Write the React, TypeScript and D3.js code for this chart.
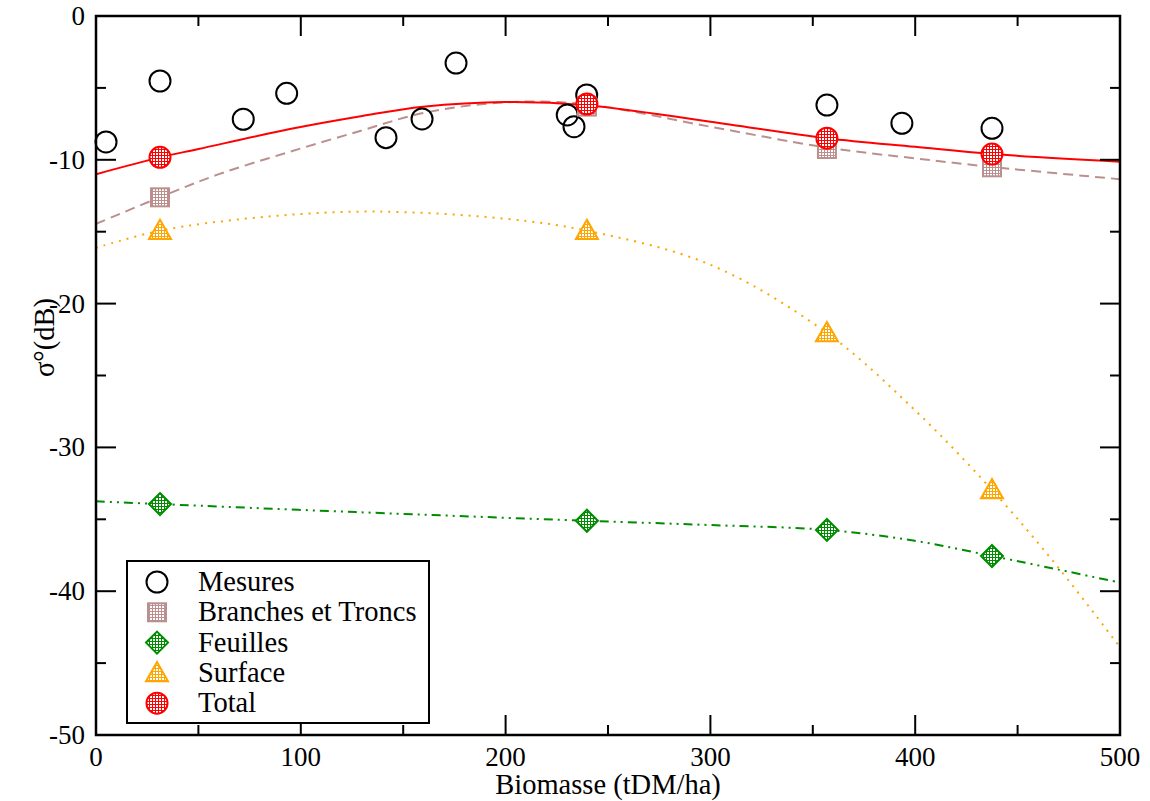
import React from "react";
import * as d3 from "d3";

const W = 1150;
const H = 801;
const M = { left: 96, right: 1120, top: 16, bottom: 735 };

// Scatter: measurements
const mesuresX = [4.9, 31.25, 71.9, 93.1, 141.6, 159.2, 175.8, 230.1, 233.4, 239.6, 356.9, 393.5, 437.5];
const mesuresY = [-8.76, -4.52, -7.18, -5.38, -8.46, -7.16, -3.27, -6.88, -7.7, -5.49, -6.19, -7.46, -7.81];

// Model points
const modelX = [31.25, 239.7, 356.9, 437.5];
const branchesY = [-12.61, -6.3, -9.25, -10.52];
const feuillesY = [-33.94, -35.1, -35.74, -37.55];
const surfaceY = [-14.93, -14.93, -22.05, -32.96];
const totalY = [-9.83, -6.12, -8.5, -9.6];

// Fitted curves
const totalCurveX = [0, 31.25, 50, 94.7, 130, 159.7, 200, 239.7, 300, 356.9, 400, 437.5, 500];
const totalCurveY = [-11.0, -9.83, -9.25, -7.86, -6.95, -6.31, -5.98, -6.2, -7.35, -8.5, -9.1, -9.6, -10.13];
const branchesCurveX = [0, 31.25, 60, 94.7, 130, 159.7, 200, 239.7, 300, 356.9, 400, 437.5, 500];
const branchesCurveY = [-14.46, -12.6, -11.0, -9.44, -7.95, -6.75, -6.0, -6.15, -7.7, -9.15, -9.9, -10.5, -11.35];
const surfaceCurveX = [0, 31.25, 80, 135, 200, 239.7, 300, 356.9, 400, 437.5, 470, 500];
const surfaceCurveY = [-16.13, -14.93, -14.0, -13.6, -14.1, -14.93, -17.3, -22.05, -27.43, -32.96, -38.38, -43.9];
const feuillesCurveX = [0, 31.25, 127, 239.7, 300, 356.9, 400, 437.5, 470, 500];
const feuillesCurveY = [-33.75, -33.94, -34.5, -35.1, -35.4, -35.74, -36.5, -37.55, -38.5, -39.4];

const xTicks = [0, 100, 200, 300, 400, 500];
const xMinor = [50, 150, 250, 350, 450];
const yTicks = [0, -10, -20, -30, -40, -50];
const yMinor = [-5, -15, -25, -35, -45];

const legendLabels = ["Mesures", "Branches et Troncs", "Feuilles", "Surface", "Total"];

const C_RED = "#ff0000";
const C_BROWN = "#bc8f8f";
const C_GREEN = "#008b00";
const C_ORANGE = "#ffa500";

const x = d3.scaleLinear().domain([0, 500]).range([M.left, M.right]);
const y = d3.scaleLinear().domain([-50, 0]).range([M.bottom, M.top]);

const curve = (xs: number[], ys: number[]) =>
  d3
    .line<number>()
    .x((_, i) => x(xs[i]))
    .y((_, i) => y(ys[i]))
    .curve(d3.curveCatmullRom.alpha(0.5))(ys) as string;

const FONT = "'Liberation Serif', 'Times New Roman', Times, serif";

function Sym({ kind, cx, cy, color }: { kind: string; cx: number; cy: number; color: string }) {
  const fill = kind === "mesure" ? "none" : `url(#dots-${kind})`;
  if (kind === "mesure" || kind === "total") {
    return <circle cx={cx} cy={cy} r={10.5} fill={fill} stroke={color} strokeWidth={2} />;
  }
  if (kind === "branches") {
    return <rect x={cx - 9} y={cy - 9} width={18} height={18} fill={fill} stroke={color} strokeWidth={2} />;
  }
  if (kind === "feuilles") {
    const r = 11;
    return (
      <path
        d={`M${cx},${cy - r}L${cx + r},${cy}L${cx},${cy + r}L${cx - r},${cy}Z`}
        fill={fill}
        stroke={color}
        strokeWidth={2}
      />
    );
  }
  const r = 11;
  return (
    <path
      d={`M${cx},${cy - r}L${cx + r},${cy + r * 0.75}L${cx - r},${cy + r * 0.75}Z`}
      fill={fill}
      stroke={color}
      strokeWidth={2}
    />
  );
}

export default function App() {
  const patterns = [
    { id: "total", color: C_RED },
    { id: "branches", color: C_BROWN },
    { id: "feuilles", color: C_GREEN },
    { id: "surface", color: C_ORANGE },
  ];
  const legendKinds = [
    { kind: "mesure", color: "#000" },
    { kind: "branches", color: C_BROWN },
    { kind: "feuilles", color: C_GREEN },
    { kind: "surface", color: C_ORANGE },
    { kind: "total", color: C_RED },
  ];
  return (
    <svg
      width={W}
      height={H}
      style={{ position: "absolute", left: 0, top: 0, background: "#fff", fontFamily: FONT }}
    >
      <defs>
        {patterns.map((p) => (
          <pattern key={p.id} id={`dots-${p.id}`} width={3} height={3} patternUnits="userSpaceOnUse">
            <rect width={3} height={3} fill={p.color} />
            <rect width={2} height={2} fill="#fff" />
          </pattern>
        ))}
        <clipPath id="plotclip">
          <rect x={M.left} y={M.top} width={M.right - M.left} height={M.bottom - M.top} />
        </clipPath>
      </defs>
      <rect width={W} height={H} fill="#fff" />

      <g clipPath="url(#plotclip)" fill="none">
        <path d={curve(feuillesCurveX, feuillesCurveY)} stroke={C_GREEN} strokeWidth={2} strokeDasharray="9,5,2,5,2,5" />
        <path d={curve(surfaceCurveX, surfaceCurveY)} stroke={C_ORANGE} strokeWidth={2} strokeDasharray="2,6" />
        <path d={curve(branchesCurveX, branchesCurveY)} stroke={C_BROWN} strokeWidth={2} strokeDasharray="10,6" />
        <path d={curve(totalCurveX, totalCurveY)} stroke={C_RED} strokeWidth={2} />
      </g>

      {mesuresX.map((v, i) => (
        <Sym key={`m${i}`} kind="mesure" cx={x(v)} cy={y(mesuresY[i])} color="#000" />
      ))}
      {modelX.map((v, i) => (
        <Sym key={`b${i}`} kind="branches" cx={x(v)} cy={y(branchesY[i])} color={C_BROWN} />
      ))}
      {modelX.map((v, i) => (
        <Sym key={`f${i}`} kind="feuilles" cx={x(v)} cy={y(feuillesY[i])} color={C_GREEN} />
      ))}
      {modelX.map((v, i) => (
        <Sym key={`s${i}`} kind="surface" cx={x(v)} cy={y(surfaceY[i])} color={C_ORANGE} />
      ))}
      {modelX.map((v, i) => (
        <Sym key={`t${i}`} kind="total" cx={x(v)} cy={y(totalY[i])} color={C_RED} />
      ))}

      <g stroke="#000" strokeWidth={2}>
        {xTicks.map((t) => (
          <g key={`xt${t}`}>
            <line x1={x(t)} x2={x(t)} y1={M.bottom} y2={M.bottom - 20} />
            <line x1={x(t)} x2={x(t)} y1={M.top} y2={M.top + 20} />
          </g>
        ))}
        {xMinor.map((t) => (
          <g key={`xm${t}`}>
            <line x1={x(t)} x2={x(t)} y1={M.bottom} y2={M.bottom - 10} />
            <line x1={x(t)} x2={x(t)} y1={M.top} y2={M.top + 10} />
          </g>
        ))}
        {yTicks.map((t) => (
          <g key={`yt${t}`}>
            <line x1={M.left} x2={M.left + 20} y1={y(t)} y2={y(t)} />
            <line x1={M.right} x2={M.right - 20} y1={y(t)} y2={y(t)} />
          </g>
        ))}
        {yMinor.map((t) => (
          <g key={`ym${t}`}>
            <line x1={M.left} x2={M.left + 10} y1={y(t)} y2={y(t)} />
            <line x1={M.right} x2={M.right - 10} y1={y(t)} y2={y(t)} />
          </g>
        ))}
        <rect
          x={M.left}
          y={M.top}
          width={M.right - M.left}
          height={M.bottom - M.top}
          fill="none"
          strokeWidth={2.5}
        />
      </g>

      <g fontSize={27} fill="#000">
        {xTicks.map((t) => (
          <text key={`xl${t}`} x={x(t)} y={766} textAnchor="middle">
            {t}
          </text>
        ))}
        {yTicks.map((t) => (
          <text key={`yl${t}`} x={85} y={y(t) + 9} textAnchor="end">
            {t}
          </text>
        ))}
      </g>

      <text x={(M.left + M.right) / 2} y={794} textAnchor="middle" fontSize={28.5}>
        Biomasse (tDM/ha)
      </text>
      <text transform={`translate(54,${(M.top + M.bottom) / 2 - 38}) rotate(-90)`} textAnchor="middle" fontSize={28.5}>
        σ°(dB)
      </text>

      <g>
        <rect x={127} y={561} width={302} height={162} fill="#fff" stroke="#000" strokeWidth={2} />
        {legendLabels.map((lab, i) => {
          const cy = 582 + i * 30.3;
          return (
            <g key={lab}>
              <Sym kind={legendKinds[i].kind} cx={157} cy={cy} color={legendKinds[i].color} />
              <text x={198} y={cy + 9} fontSize={28.5}>
                {lab}
              </text>
            </g>
          );
        })}
      </g>
    </svg>
  );
}
